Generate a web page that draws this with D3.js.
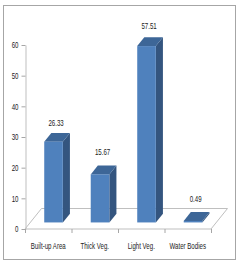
<!DOCTYPE html>
<html>
<head>
<meta charset="utf-8">
<script src="https://cdn.jsdelivr.net/npm/d3@7"></script>
<style>
  html, body { margin: 0; padding: 0; background: #fff; }
  svg { display: block; }
  text { font-family: "Liberation Sans", Arial, sans-serif; fill: #222; }
</style>
</head>
<body>
<div id="chart"></div>
<script>
'use strict';

// chart data
var categories = ['Built-up Area', 'Thick Veg.', 'Light Veg.', 'Water Bodies'];
var values = [26.33, 15.67, 57.51, 0.49];
var valueLabels = ['26.33', '15.67', '57.51', '0.49'];
var yTicks = [0, 10, 20, 30, 40, 50, 60];

var W = 242, H = 264
  , depth = { dx: 16.5, dy: -20.5 }  // floor depth offset
  , barPos = 0.32                    // front of the bar inside the floor depth
  , barDepth = 0.43                  // depth of a bar, fraction of floor depth
  , squeeze = 0.72                   // narrow the text like the original font
  , fontSize = '8.5px'
  , labelLift = [10, 14, 11, 13];    // value label centre above the bar top

var svg = d3.select('#chart').append('svg')
    .attr('width', W)
    .attr('height', H);

// narrow text: place at (px, py) and squeeze horizontally
function squeezed(sel, px, py) {
  return sel.attr('transform', function (d, i) {
    return 'translate(' + px(d, i) + ',' + py(d, i) + ') scale(' + squeeze + ',1)';
  });
}

// outer frame
svg.append('rect')
    .attr('x', 3.5).attr('y', 5.5)
    .attr('width', 232).attr('height', 254)
    .attr('fill', 'none')
    .attr('stroke', '#a6a6a6');

var x = d3.scaleBand().domain(categories).range([25, 211]);
var y = d3.scaleLinear().domain([0, 60]).range([229, 45]);

// floor
var x0 = x.range()[0], x1 = x.range()[1], yb = y(0);
svg.append('path')
    .attr('d', 'M' + x0 + ',' + yb + 'L' + (x0 + depth.dx) + ',' + (yb + depth.dy)
      + 'L' + (x1 + depth.dx) + ',' + (yb + depth.dy) + 'L' + x1 + ',' + yb + 'Z')
    .attr('fill', 'none')
    .attr('stroke', '#bfbfbf');

// y axis
var yAxis = svg.append('g')
    .attr('transform', 'translate(' + (x0 + 0.5) + ',0)')
    .call(d3.axisLeft(y).tickValues(yTicks).tickSize(4).tickSizeOuter(0)
      .tickPadding(3).tickFormat(d3.format('d')));
yAxis.select('.domain').attr('stroke', '#bfbfbf');
yAxis.selectAll('.tick line').attr('stroke', '#a6a6a6');
yAxis.selectAll('.tick text')
    .style('font-size', fontSize)
    .attr('fill', '#222')
    .attr('x', null)
    .attr('transform', 'translate(-7,0) scale(' + squeeze + ',1)');

// x axis ticks between categories
var xTicks = categories.map(function (c) { return x(c); }).concat([x1]);
svg.selectAll('line.xtick')
    .data(xTicks)
  .enter().append('line')
    .attr('class', 'xtick')
    .attr('x1', function (d) { return d + 0.5; })
    .attr('x2', function (d) { return d + 0.5; })
    .attr('y1', yb)
    .attr('y2', yb + 4)
    .attr('stroke', '#a6a6a6');

squeezed(svg.selectAll('text.cat')
    .data(categories)
  .enter().append('text')
    .attr('class', 'cat')
    .attr('text-anchor', 'middle')
    .style('font-size', fontSize)
    .text(function (d) { return d; }),
  function (d) { return x(d) + x.bandwidth() / 2; },
  function () { return 249; });

// bars
var bw = x.bandwidth() * 0.4
  , ox = depth.dx * barPos, oy = depth.dy * barPos
  , bdx = depth.dx * barDepth, bdy = depth.dy * barDepth;

var bars = svg.selectAll('g.bar')
    .data(values)
  .enter().append('g')
    .attr('class', 'bar');

function barLeft(i) { return x(categories[i]) + x.bandwidth() / 2 - bw / 2 + ox; }
function barTop(d) { return y(d) + oy; }
var barBottom = yb + oy;

// side face
bars.append('path')
    .attr('d', function (d, i) {
      var r = barLeft(i) + bw, t = barTop(d);
      return 'M' + r + ',' + t + 'L' + (r + bdx) + ',' + (t + bdy)
        + 'L' + (r + bdx) + ',' + (barBottom + bdy) + 'L' + r + ',' + barBottom + 'Z';
    })
    .attr('fill', '#34557f');

// top face
bars.append('path')
    .attr('d', function (d, i) {
      var l = barLeft(i), t = barTop(d);
      return 'M' + l + ',' + t + 'L' + (l + bdx) + ',' + (t + bdy)
        + 'L' + (l + bw + bdx) + ',' + (t + bdy) + 'L' + (l + bw) + ',' + t + 'Z';
    })
    .attr('fill', '#3d6697');

// front face
bars.append('rect')
    .attr('x', function (d, i) { return barLeft(i); })
    .attr('y', function (d) { return barTop(d); })
    .attr('width', bw)
    .attr('height', function (d) { return barBottom - barTop(d); })
    .attr('fill', '#4f81bd');

// value labels
squeezed(bars.append('text')
    .attr('text-anchor', 'middle')
    .style('font-size', fontSize)
    .text(function (d, i) { return valueLabels[i]; }),
  function (d, i) { return barLeft(i) + bw / 2 + bdx / 2 - 1; },
  function (d, i) { return barTop(d) + bdy - labelLift[i] + 3; });
</script>
</body>
</html>
